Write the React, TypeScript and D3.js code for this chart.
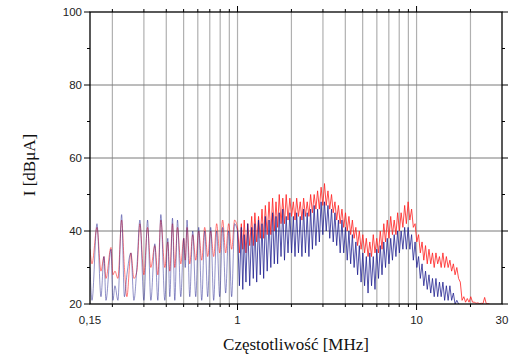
import * as d3 from "d3";

// --- data (frequency in MHz, level in dBµA) ---

// low band: individual peaks / troughs
const lowFreq = [
  0.15, 0.1539, 0.1641, 0.1727, 0.1795, 0.1842, 0.1964, 0.2015, 0.2067, 0.2148,
  0.2253, 0.2335, 0.2411, 0.2538, 0.2638, 0.2741, 0.2849, 0.2999, 0.3144, 0.3281,
  0.3453, 0.3589, 0.373, 0.3926, 0.408, 0.4186, 0.4333, 0.4463, 0.4621, 0.4821,
  0.501, 0.5106, 0.5226, 0.541, 0.5622, 0.5843, 0.6072, 0.6311, 0.6558, 0.6815,
  0.7083, 0.736, 0.7649, 0.7949, 0.8261, 0.8585, 0.8922, 0.9272, 0.9636,
];
const lowBlue = [
  30, 21, 42, 22, 33, 21, 35, 21, 25, 21,
  44.5, 22, 28, 34, 21, 30, 43, 21, 43, 21,
  36.5, 21, 44.5, 21, 38, 22, 43.5, 21, 43, 22,
  38, 30, 43, 22, 40, 22, 41, 21, 40, 22,
  41, 21, 40, 22, 41, 23, 40, 22, 42,
];
const lowRed = [
  35, 31, 41, 29, 33, 27, 35.5, 28, 29, 27,
  43, 30, 22, 34, 27, 29, 42, 28, 41, 30,
  36, 28, 43, 30, 37, 29, 42, 30, 41, 31,
  38, 32, 41, 31, 39, 32, 40, 32, 41, 33,
  40, 33, 42, 34, 43, 34, 42, 35, 43,
];

// dense band: upper / lower excursion of each trace
const denseFreq = [
  1.0, 1.05, 1.09, 1.14, 1.2, 1.25, 1.31, 1.37, 1.43, 1.5,
  1.57, 1.64, 1.71, 1.79, 1.87, 1.96, 2.05, 2.14, 2.24, 2.34,
  2.45, 2.56, 2.68, 2.8, 2.93, 3.06, 3.2, 3.35, 3.5, 3.66,
  3.83, 4.01, 4.19, 4.38, 4.58, 4.79, 5.01, 5.24, 5.48, 5.73,
  5.99, 6.27, 6.56, 6.86, 7.17, 7.5, 7.84, 8.2, 8.58, 8.97,
  9.38, 9.81, 10.26, 10.73, 11.22, 11.73, 12.27, 12.83, 13.42, 14.03,
  14.67, 15.35, 16.05, 16.78, 17.55, 18.36, 19.2, 20.08,
  21.0, 22.0, 23.0, 24.0, 25.0,
];
const redHi = [
  41, 42, 43, 42, 44, 45, 44, 46, 47, 48,
  49, 48, 50, 49, 50, 49, 48, 49, 48, 49,
  48, 50, 50, 51, 52, 53, 51, 50, 48, 47,
  46, 45, 44, 43, 41, 40, 39, 38, 37, 39,
  38, 40, 42, 43, 44, 43, 45, 45, 47, 48,
  46, 42, 39, 37, 36, 35, 34, 34, 33, 34,
  33, 32, 31, 30, 26, 22, 21.5, 22,
  20.5, 20.3, 20.2, 21.8, 20.1,
];
const redLo = [
  34, 35, 34, 36, 36, 37, 38, 38, 39, 39,
  40, 41, 42, 42, 43, 44, 43, 44, 43, 44,
  44, 45, 46, 46, 47, 47, 46, 45, 43, 42,
  41, 40, 39, 38, 36, 35, 34, 33, 33, 34,
  34, 35, 37, 38, 39, 39, 40, 41, 42, 43,
  41, 37, 34, 32, 31, 31, 30, 31, 30, 30,
  30, 29, 28, 27, 21, 20.5, 20.5, 20.5,
  20.2, 20.1, 20.1, 20.1, 20.0,
];
const blueHi = [
  40, 41, 39, 42, 41, 42, 43, 42, 44, 43,
  45, 44, 45, 46, 44, 45, 44, 45, 44, 46,
  45, 46, 47, 46, 48, 48, 47, 46, 45, 43,
  43, 41, 40, 39, 37, 36, 34, 33, 34, 33,
  35, 36, 37, 38, 38, 39, 40, 40, 41, 41,
  39, 37, 33, 31, 29, 28, 27, 27, 26, 26,
  25, 25, 23, 21, null, null, null, null,
  null, null, null, null, null,
];
const blueLo = [
  25, 24, 26, 25, 27, 26, 28, 27, 29, 30,
  31, 31, 33, 32, 34, 34, 33, 34, 33, 34,
  33, 35, 36, 37, 39, 40, 38, 37, 36, 34,
  34, 32, 31, 30, 28, 26, 25, 23, 25, 24,
  27, 28, 30, 31, 32, 33, 34, 35, 35, 35,
  32, 30, 27, 25, 24, 23, 22, 22, 22, 21,
  21, 21, 20, 20, null, null, null, null,
  null, null, null, null, null,
];

const xGrid = [0.2, 0.3, 0.4, 0.5, 0.6, 0.7, 0.8, 0.9, 1, 2, 3, 4, 5, 6, 7, 8, 9, 10, 20];
const xMajor = [1, 10];
const xLabels = [0.15, 1, 10, 30];
const yMajor = [20, 40, 60, 80, 100];
const yMinor = [30, 50, 70, 90];
const yGrid = [40, 60, 80];

const W = 515;
const H = 356;
const margin = { top: 12, right: 13, bottom: 52, left: 90 };

type Pt = [number, number | null];

// low band as rounded peaks, joined to the first point of the dense band
const lowTrace = (lv: number[], hi: (number | null)[]) => {
  const pts: Pt[] = lowFreq.map((f, i) => [f, lv[i]]);
  pts.push([denseFreq[0], hi[0]]);
  return pts;
};

const denseTrace = (hi: (number | null)[], lo: (number | null)[]) => {
  const pts: Pt[] = [];
  denseFreq.forEach((f, i) => {
    const next = denseFreq[i + 1] ?? f * 1.045;
    pts.push([f, hi[i]]);
    pts.push([Math.sqrt(f * next), lo[i]]);
  });
  return pts;
};

export default function App() {
  const x = d3.scaleLog().domain([0.15, 30]).range([margin.left, W - margin.right]);
  const y = d3.scaleLinear().domain([20, 100]).range([H - margin.bottom, margin.top]);
  const x0 = margin.left;
  const x1 = W - margin.right;
  const y0 = H - margin.bottom;
  const y1 = margin.top;

  const line = d3
    .line<Pt>()
    .defined((d) => d[1] != null)
    .x((d) => x(d[0]))
    .y((d) => y(d[1] as number));
  const curve = d3
    .line<Pt>()
    .defined((d) => d[1] != null)
    .x((d) => x(d[0]))
    .y((d) => y(d[1] as number))
    .curve(d3.curveMonotoneX);

  const fmt = (v: number) => String(v).replace(".", ",");
  const sans = "Liberation Sans, Arial, sans-serif";
  const serif = "Liberation Serif, Times New Roman, serif";
  const redC = "#ff2020";
  const blueC = "#1a1a8c";

  return (
    <svg
      width={W}
      height={H}
      style={{ position: "absolute", left: 0, top: 0, background: "#fff" }}
    >
      <defs>
        <clipPath id="plot">
          <rect x={x0} y={y1} width={x1 - x0} height={y0 - y1} />
        </clipPath>
      </defs>

      {xGrid.map((v) => (
        <line key={"gx" + v} x1={x(v)} x2={x(v)} y1={y1} y2={y0} stroke="#b0b0b0" strokeWidth={1.2} />
      ))}
      {yGrid.map((v) => (
        <line key={"gy" + v} x1={x0} x2={x1} y1={y(v)} y2={y(v)} stroke="#7a7a7a" strokeWidth={1} />
      ))}

      <g clipPath="url(#plot)" fill="none">
        <path d={curve(lowTrace(lowRed, redHi)) ?? ""} stroke={redC} strokeWidth={0.8} strokeOpacity={0.75} />
        <path d={line(denseTrace(redHi, redLo)) ?? ""} stroke={redC} strokeWidth={0.9} strokeOpacity={0.9} />
        <path d={curve(lowTrace(lowBlue, blueHi)) ?? ""} stroke={blueC} strokeWidth={0.8} strokeOpacity={0.6} />
        <path d={line(denseTrace(blueHi, blueLo)) ?? ""} stroke={blueC} strokeWidth={0.9} strokeOpacity={0.85} />
      </g>

      <rect x={x0} y={y1} width={x1 - x0} height={y0 - y1} fill="none" stroke="#000" strokeWidth={1.3} />

      {xGrid.map((v) => {
        const len = xMajor.includes(v) ? 6 : 3;
        return (
          <g key={"tx" + v} stroke="#000" strokeWidth={1}>
            <line x1={x(v)} x2={x(v)} y1={y0} y2={y0 + len} />
            <line x1={x(v)} x2={x(v)} y1={y1} y2={y1 - len} />
          </g>
        );
      })}
      {yMajor.map((v) => (
        <g key={"ty" + v} stroke="#000" strokeWidth={1}>
          <line x1={x0 - 6} x2={x0} y1={y(v)} y2={y(v)} />
          <line x1={x1} x2={x1 + 6} y1={y(v)} y2={y(v)} />
        </g>
      ))}
      {yMinor.map((v) => (
        <g key={"tm" + v} stroke="#000" strokeWidth={1}>
          <line x1={x0 - 3} x2={x0} y1={y(v)} y2={y(v)} />
          <line x1={x1} x2={x1 + 3} y1={y(v)} y2={y(v)} />
        </g>
      ))}

      {yMajor.map((v) => (
        <text
          key={"ly" + v}
          x={x0 - 8}
          y={y(v)}
          dy="0.35em"
          textAnchor="end"
          fontFamily={sans}
          fontSize={11.5}
          fill="#222"
        >
          {v}
        </text>
      ))}
      {xLabels.map((v) => (
        <text
          key={"lx" + v}
          x={x(v)}
          y={y0 + 20}
          textAnchor="middle"
          fontFamily={sans}
          fontSize={11.5}
          fill="#222"
        >
          {fmt(v)}
        </text>
      ))}

      <text x={(x0 + x1) / 2} y={350} textAnchor="middle" fontFamily={serif} fontSize={17} fill="#111">
        Częstotliwość [MHz]
      </text>
      <text
        transform={`translate(35,${(y0 + y1) / 2 + 7}) rotate(-90)`}
        textAnchor="middle"
        fontFamily={serif}
        fontSize={17}
        fill="#111"
      >
        I [dBμA]
      </text>
    </svg>
  );
}
